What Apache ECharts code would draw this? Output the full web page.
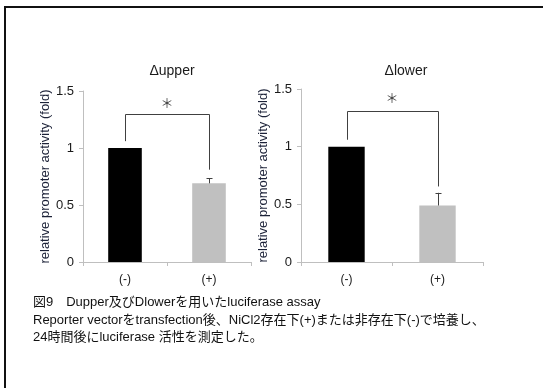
<!DOCTYPE html>
<html>
<head>
<meta charset="utf-8">
<script src="https://cdn.jsdelivr.net/npm/echarts@6/dist/echarts.min.js"></script>
<style>
  html, body { margin: 0; padding: 0; background: #fff; }
  #chart { width: 543px; height: 388px; }
</style>
</head>
<body>
<div id="chart"></div>
<script>
// Categories and values for the two luciferase panels
const categories = ['(-)', '(+)'];
const panelTitles = ['\u0394upper', '\u0394lower'];
const upperValues = [1.0, 0.69];
const upperErrors = [0, 0.045];
const lowerValues = [1.0, 0.49];
const lowerErrors = [0, 0.11];
const yTicks = [0, 0.5, 1, 1.5];
// Significance bracket: [left end, bar top level, right end, asterisk level]
const upperBracket = [1.06, 1.30, 0.81, 1.39];
const lowerBracket = [1.06, 1.31, 0.655, 1.42];
const yName = 'relative promoter activity (fold)';
const captionLines = [
  '\u56f39\u3000Dupper\u53ca\u3073Dlower\u3092\u7528\u3044\u305fluciferase assay',
  'Reporter vector\u3092transfection\u5f8c\u3001NiCl2\u5b58\u5728\u4e0b(+)\u307e\u305f\u306f\u975e\u5b58\u5728\u4e0b(-)\u3067\u57f9\u990a\u3057\u3001',
  '24\u6642\u9593\u5f8c\u306bluciferase \u6d3b\u6027\u3092\u6e2c\u5b9a\u3057\u305f\u3002'
];

const chart = echarts.init(document.getElementById('chart'), null, { renderer: 'canvas' });
const barColors = ['#000000', '#c0c0c0'];
const axisGray = '#bfbfbf';
const textColor = '#1a1a1a';
const font = '"Liberation Sans"';
const captionFont = '"Liberation Sans", "Noto Sans CJK JP"';

const grids = [
  { left: 83, top: 91, width: 168, height: 171 },
  { left: 301, top: 89, width: 182, height: 173 }
];

function xAxisFor(i) {
  return {
    type: 'category', gridIndex: i, data: categories,
    axisLine: { lineStyle: { color: axisGray } },
    axisTick: { show: true, length: 4, lineStyle: { color: axisGray } },
    axisLabel: { color: textColor, fontSize: 12, fontFamily: font, margin: 12 }
  };
}
function yAxisFor(i) {
  return {
    type: 'value', gridIndex: i, min: yTicks[0], max: yTicks[yTicks.length - 1], interval: 0.5,
    splitLine: { show: false },
    axisLine: { show: true, lineStyle: { color: axisGray } },
    axisTick: { show: true, length: 4, lineStyle: { color: axisGray } },
    axisLabel: { color: textColor, fontSize: 13, fontFamily: font, margin: 9 },
    name: yName, nameLocation: 'middle', nameRotate: 90, nameGap: 30,
    nameTextStyle: { color: '#1c2238', fontSize: 13, fontFamily: font }
  };
}

function barSeries(i, values) {
  return {
    type: 'bar', xAxisIndex: i, yAxisIndex: i, barWidth: '40%',
    data: values.map((v, k) => ({ value: v, itemStyle: { color: barColors[k] } })),
    silent: true
  };
}

// Upward error whiskers with a short cap
function errorSeries(i, values, errors) {
  return {
    type: 'custom', xAxisIndex: i, yAxisIndex: i, silent: true, z: 5,
    data: values.map((v, k) => [k, v, v + errors[k]]),
    renderItem: function (params, api) {
      if (api.value(2) <= api.value(1)) return null;
      const base = api.coord([api.value(0), api.value(1)]);
      const top = api.coord([api.value(0), api.value(2)]);
      const style = { stroke: '#404040', lineWidth: 1 };
      const x = Math.round(base[0]) + 0.5;
      return {
        type: 'group', children: [
          { type: 'line', shape: { x1: x, y1: base[1], x2: x, y2: top[1] }, style: style },
          { type: 'line', shape: { x1: x - 3, y1: Math.round(top[1]) + 0.5, x2: x + 3, y2: Math.round(top[1]) + 0.5 }, style: style }
        ]
      };
    }
  };
}

// Bracket between the two bars with an asterisk above it
function bracketSeries(i, b) {
  return {
    type: 'custom', xAxisIndex: i, yAxisIndex: i, silent: true, z: 6,
    data: [[0, 1].concat(b)],
    renderItem: function (params, api) {
      const p1 = api.coord([0, api.value(2)]);
      const p2 = api.coord([0, api.value(3)]);
      const p3 = api.coord([1, api.value(3)]);
      const p4 = api.coord([1, api.value(4)]);
      const starY = api.coord([0, api.value(5)])[1];
      const starX = (p2[0] + p3[0]) / 2;
      const r = v => Math.round(v) + 0.5;
      return {
        type: 'group', children: [
          { type: 'polyline', shape: { points: [[r(p1[0]), p1[1]], [r(p2[0]), r(p2[1])], [r(p3[0]), r(p3[1])], [r(p4[0]), p4[1]]] },
            style: { stroke: '#404040', lineWidth: 1, fill: null } },
          { type: 'text', x: starX, y: starY,
            style: { text: '\uff0a', fontSize: 13, fontFamily: '"Noto Sans CJK JP"', fill: '#404040', align: 'center', verticalAlign: 'middle' } }
        ]
      };
    }
  };
}

const option = {
  animation: false,
  backgroundColor: '#ffffff',
  title: [
    { text: panelTitles[0], left: 167, top: 59, textAlign: 'center',
      textStyle: { fontSize: 14, fontWeight: 'normal', color: textColor, fontFamily: font } },
    { text: panelTitles[1], left: 401, top: 59, textAlign: 'center',
      textStyle: { fontSize: 14, fontWeight: 'normal', color: textColor, fontFamily: font } }
  ],
  grid: grids,
  xAxis: [xAxisFor(0), xAxisFor(1)],
  yAxis: [yAxisFor(0), Object.assign(yAxisFor(1), { nameGap: 31 })],
  series: [
    barSeries(0, upperValues), errorSeries(0, upperValues, upperErrors), bracketSeries(0, upperBracket),
    barSeries(1, lowerValues), errorSeries(1, lowerValues, lowerErrors), bracketSeries(1, lowerBracket)
  ],
  graphic: [
    { type: 'rect', shape: { x: 4, y: 6, width: 539, height: 2 }, style: { fill: '#111' }, silent: true },
    { type: 'rect', shape: { x: 4, y: 6, width: 2, height: 382 }, style: { fill: '#111' }, silent: true }
  ].concat(captionLines.map((t, k) => ({
    type: 'text', left: 33, top: 296 + k * 17.5, silent: true,
    style: { text: t, fontSize: 13, fill: '#111', fontFamily: captionFont }
  })))
};

chart.setOption(option);
</script>
</body>
</html>
